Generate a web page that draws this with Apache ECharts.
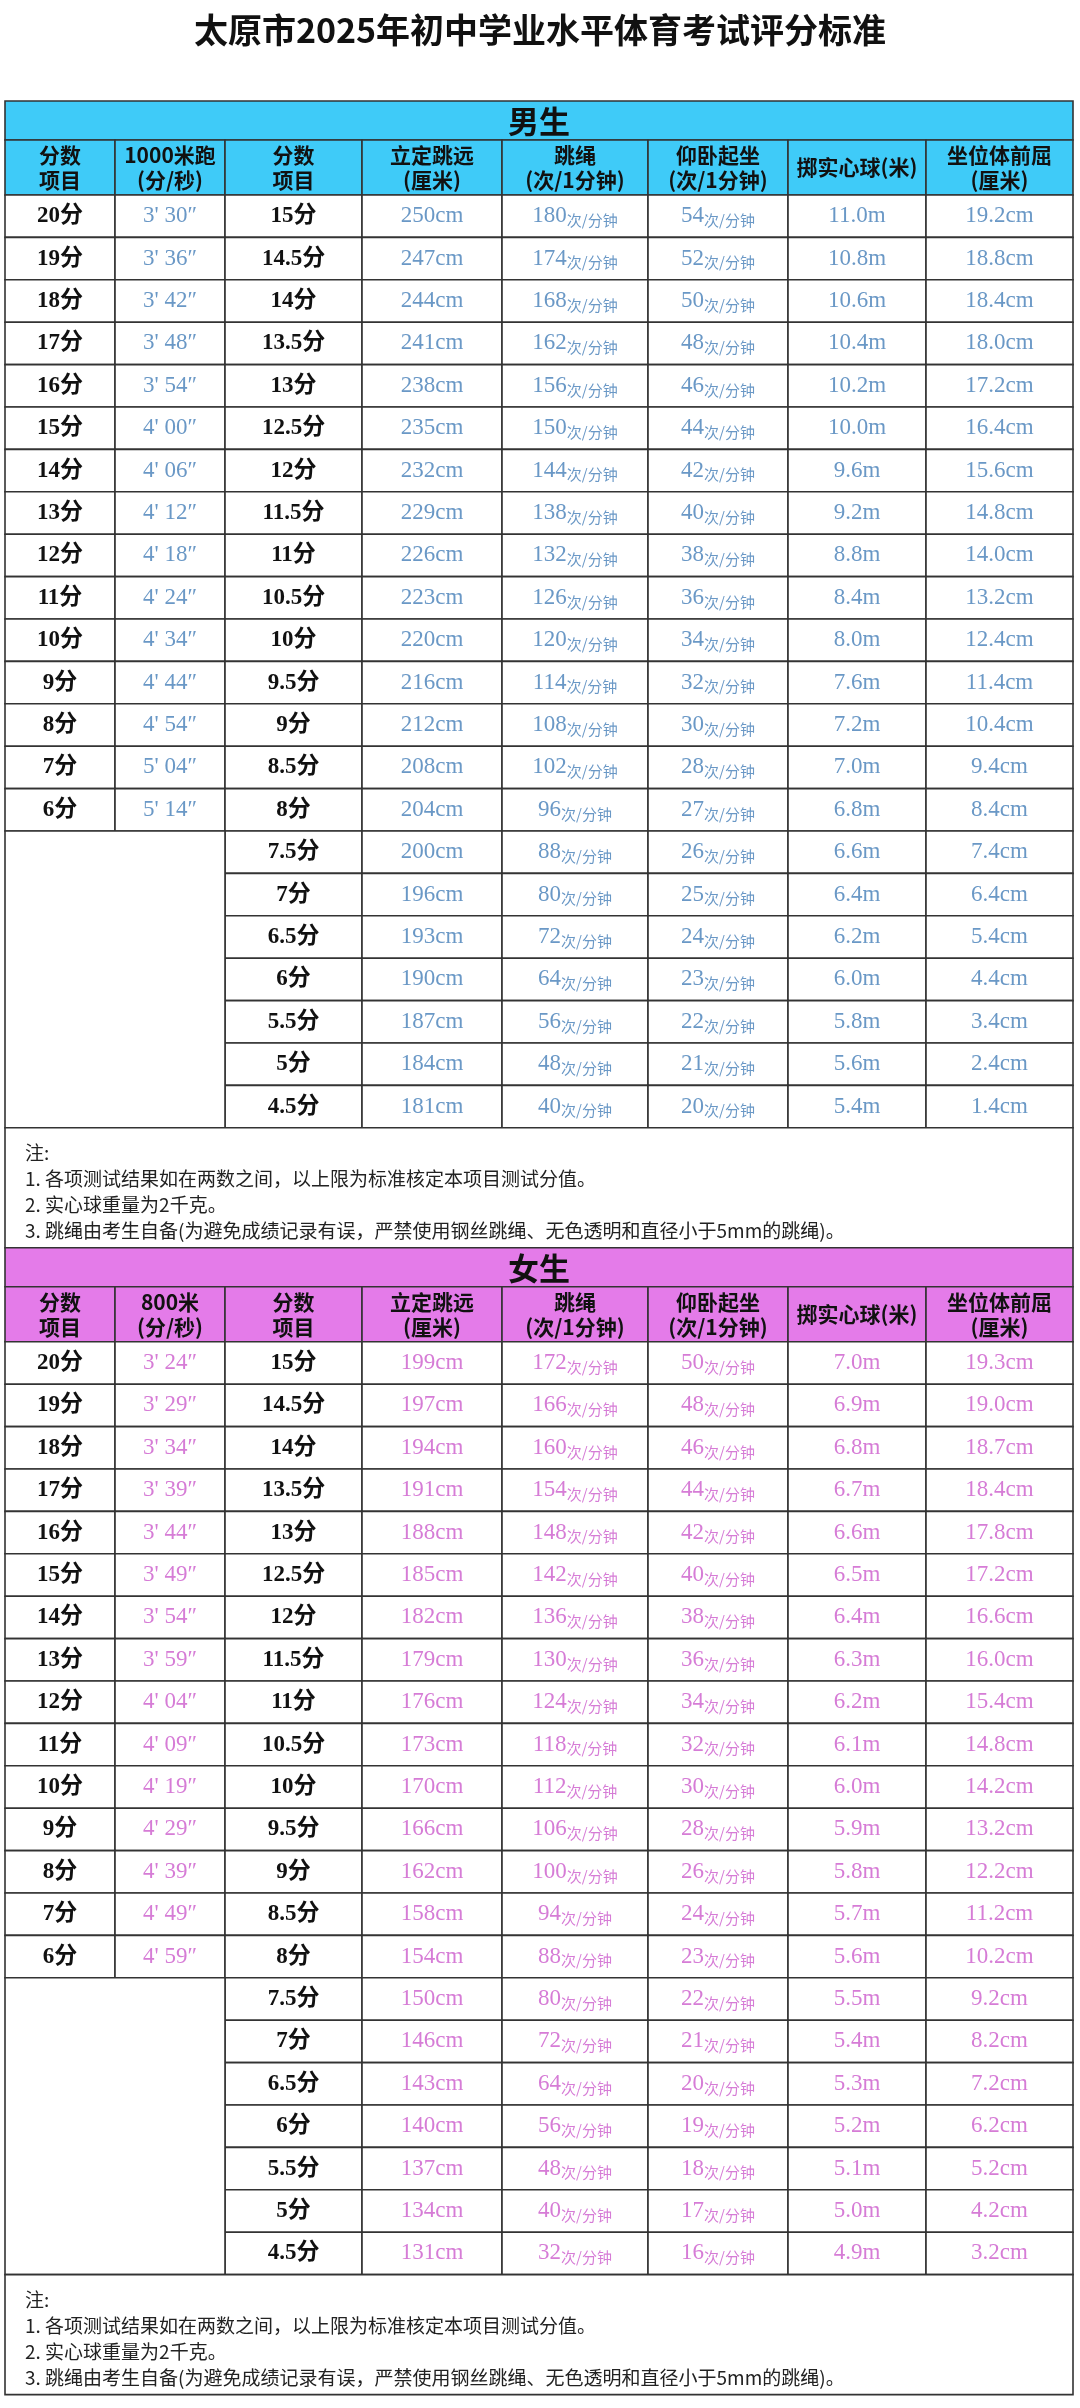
<!DOCTYPE html>
<html>
<head>
<meta charset="utf-8">
<script src="https://cdn.jsdelivr.net/npm/echarts@6/dist/echarts.min.js"></script>
<style>html,body{margin:0;padding:0;background:#fff}#main{width:1080px;height:2408px}</style>
</head>
<body>
<div id="main"></div>
<script>
// 数据
var scoreA = ['20分','19分','18分','17分','16分','15分','14分','13分','12分','11分','10分','9分','8分','7分','6分'];
var scoreB = ['15分','14.5分','14分','13.5分','13分','12.5分','12分','11.5分','11分','10.5分','10分','9.5分','9分','8.5分','8分','7.5分','7分','6.5分','6分','5.5分','5分','4.5分'];

var maleRun = ["3' 30″","3' 36″","3' 42″","3' 48″","3' 54″","4' 00″","4' 06″","4' 12″","4' 18″","4' 24″","4' 34″","4' 44″","4' 54″","5' 04″","5' 14″"];
var maleJump = [250,247,244,241,238,235,232,229,226,223,220,216,212,208,204,200,196,193,190,187,184,181];
var maleRope = [180,174,168,162,156,150,144,138,132,126,120,114,108,102,96,88,80,72,64,56,48,40];
var maleSitup = [54,52,50,48,46,44,42,40,38,36,34,32,30,28,27,26,25,24,23,22,21,20];
var maleBall = ['11.0','10.8','10.6','10.4','10.2','10.0','9.6','9.2','8.8','8.4','8.0','7.6','7.2','7.0','6.8','6.6','6.4','6.2','6.0','5.8','5.6','5.4'];
var maleReach = ['19.2','18.8','18.4','18.0','17.2','16.4','15.6','14.8','14.0','13.2','12.4','11.4','10.4','9.4','8.4','7.4','6.4','5.4','4.4','3.4','2.4','1.4'];

var femaleRun = ["3' 24″","3' 29″","3' 34″","3' 39″","3' 44″","3' 49″","3' 54″","3' 59″","4' 04″","4' 09″","4' 19″","4' 29″","4' 39″","4' 49″","4' 59″"];
var femaleJump = [199,197,194,191,188,185,182,179,176,173,170,166,162,158,154,150,146,143,140,137,134,131];
var femaleRope = [172,166,160,154,148,142,136,130,124,118,112,106,100,94,88,80,72,64,56,48,40,32];
var femaleSitup = [50,48,46,44,42,40,38,36,34,32,30,28,26,24,23,22,21,20,19,18,17,16];
var femaleBall = ['7.0','6.9','6.8','6.7','6.6','6.5','6.4','6.3','6.2','6.1','6.0','5.9','5.8','5.7','5.6','5.5','5.4','5.3','5.2','5.1','5.0','4.9'];
var femaleReach = ['19.3','19.0','18.7','18.4','17.8','17.2','16.6','16.0','15.4','14.8','14.2','13.2','12.2','11.2','10.2','9.2','8.2','7.2','6.2','5.2','4.2','3.2'];

var maleHeads = ['分数\n项目','1000米跑\n(分/秒)','分数\n项目','立定跳远\n(厘米)','跳绳\n(次/1分钟)','仰卧起坐\n(次/1分钟)','掷实心球(米)','坐位体前屈\n(厘米)'];
var femaleHeads = ['分数\n项目','800米\n(分/秒)','分数\n项目','立定跳远\n(厘米)','跳绳\n(次/1分钟)','仰卧起坐\n(次/1分钟)','掷实心球(米)','坐位体前屈\n(厘米)'];
var notes = ['注:','1. 各项测试结果如在两数之间，以上限为标准核定本项目测试分值。','2. 实心球重量为2千克。','3. 跳绳由考生自备(为避免成绩记录有误，严禁使用钢丝跳绳、无色透明和直径小于5mm的跳绳)。'];

// 版式
var colX = [5,115,225,362,502,648,788,926,1073];
var rowH = 42.4, titleH = 39, headH = 55, notesH = 120;
var FONT = "'Liberation Serif','Noto Sans CJK SC',serif";
var CJK = "'Noto Sans CJK SC',sans-serif";

var cells = [];
function addSection(top, name, color, valColor, heads, run, jump, rope, situp, ball, reach) {
    var y = top;
    cells.push({x0: colX[0], x1: colX[8], y0: y, y1: y + titleH, fill: color, text: name, kind: 'title'});
    y += titleH;
    heads.forEach(function (h, i) {
        cells.push({x0: colX[i], x1: colX[i + 1], y0: y, y1: y + headH, fill: color, text: h, kind: 'head'});
    });
    y += headH;
    for (var r = 0; r < 22; r++) {
        var y0 = y + r * rowH, y1 = y0 + rowH;
        if (r < scoreA.length) {
            cells.push({x0: colX[0], x1: colX[1], y0: y0, y1: y1, text: scoreA[r], kind: 'score'});
            cells.push({x0: colX[1], x1: colX[2], y0: y0, y1: y1, text: run[r], kind: 'value', color: valColor});
        }
        cells.push({x0: colX[2], x1: colX[3], y0: y0, y1: y1, text: scoreB[r], kind: 'score'});
        cells.push({x0: colX[3], x1: colX[4], y0: y0, y1: y1, text: jump[r] + 'cm', kind: 'value', color: valColor});
        cells.push({x0: colX[4], x1: colX[5], y0: y0, y1: y1, text: rope[r] + '{u|次/分钟}', kind: 'value', color: valColor});
        cells.push({x0: colX[5], x1: colX[6], y0: y0, y1: y1, text: situp[r] + '{u|次/分钟}', kind: 'value', color: valColor});
        cells.push({x0: colX[6], x1: colX[7], y0: y0, y1: y1, text: ball[r] + 'm', kind: 'value', color: valColor});
        cells.push({x0: colX[7], x1: colX[8], y0: y0, y1: y1, text: reach[r] + 'cm', kind: 'value', color: valColor});
    }
    var yb = y + scoreA.length * rowH;
    cells.push({x0: colX[0], x1: colX[2], y0: yb, y1: y + 22 * rowH, text: '', kind: 'blank'});
    y += 22 * rowH;
    cells.push({x0: colX[0], x1: colX[8], y0: y, y1: y + notesH, text: notes.join('\n'), kind: 'notes'});
    return y + notesH;
}
var end = addSection(101, '男生', '#3fcbf8', '#6a98c6', maleHeads, maleRun, maleJump, maleRope, maleSitup, maleBall, maleReach);
addSection(end, '女生', '#e47be9', '#d67cd6', femaleHeads, femaleRun, femaleJump, femaleRope, femaleSitup, femaleBall, femaleReach);

var myChart = echarts.init(document.getElementById('main'));
var option = {
    animation: false,
    title: {
        text: '太原市2025年初中学业水平体育考试评分标准',
        left: 'center', top: 8,
        textStyle: {fontFamily: CJK, fontSize: 34, fontWeight: 'bold', color: '#111'}
    },
    grid: {left: 0, right: 0, top: 0, bottom: 0},
    xAxis: {type: 'value', min: 0, max: 1080, show: false},
    yAxis: {type: 'value', min: 0, max: 2408, inverse: true, show: false},
    series: [{
        type: 'custom',
        data: cells.map(function (c, i) { return [c.x0, c.y0, c.x1, c.y1, i]; }),
        renderItem: function (params, api) {
            var c = cells[api.value(4)];
            var p0 = api.coord([api.value(0), api.value(1)]);
            var p1 = api.coord([api.value(2), api.value(3)]);
            var w = p1[0] - p0[0], h = p1[1] - p0[1];
            var children = [{
                type: 'rect',
                shape: {x: p0[0], y: p0[1], width: w, height: h},
                style: {fill: c.fill || '#fff', stroke: '#333', lineWidth: 1.6}
            }];
            var st;
            if (c.kind === 'title') {
                st = {text: c.text, x: p0[0] + w / 2, y: p0[1] + h / 2 + 1, align: 'center', verticalAlign: 'middle',
                    font: 'bold 31px ' + CJK, fill: '#111'};
            } else if (c.kind === 'head') {
                st = {text: c.text, x: p0[0] + w / 2, y: p0[1] + h / 2, align: 'center', verticalAlign: 'middle',
                    font: 'bold 21px ' + CJK, fill: '#111', lineHeight: 25};
            } else if (c.kind === 'score') {
                st = {text: c.text, x: p0[0] + w / 2, y: p0[1] + h / 2, align: 'center', verticalAlign: 'middle',
                    font: 'bold 23px ' + FONT, fill: '#111'};
            } else if (c.kind === 'value') {
                st = {text: c.text, x: p0[0] + w / 2, y: p0[1] + h / 2, align: 'center', verticalAlign: 'middle',
                    font: '23px ' + FONT, fill: c.color,
                    rich: {u: {fontSize: 15, fontFamily: CJK, fill: c.color, verticalAlign: 'bottom'}}};
            } else if (c.kind === 'notes') {
                st = {text: c.text, x: p0[0] + 20, y: p0[1] + 12, align: 'left', verticalAlign: 'top',
                    font: '19px ' + CJK, fill: '#222', lineHeight: 26};
            }
            if (st) children.push({type: 'text', style: st});
            return {type: 'group', children: children};
        }
    }]
};
myChart.setOption(option);
</script>
</body>
</html>
